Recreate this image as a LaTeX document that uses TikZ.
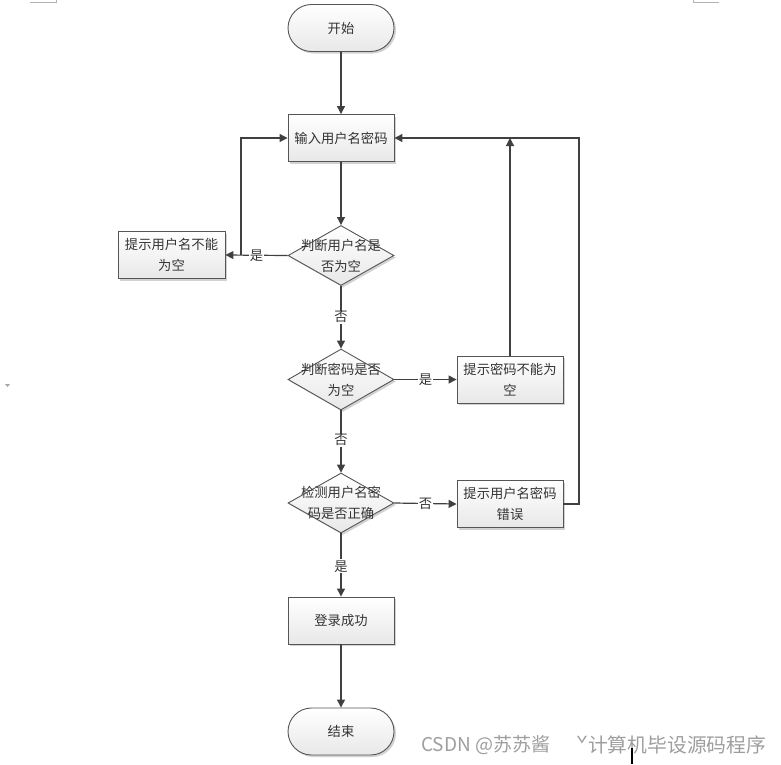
\documentclass[tikz,border=0pt]{standalone}
\usepackage{fontspec}
\setmainfont{Noto Sans CJK SC}
\usetikzlibrary{arrows.meta,shadows,shapes.geometric}
\definecolor{ink}{HTML}{333333}
\definecolor{edge}{HTML}{404040}
\definecolor{frame}{HTML}{555555}
\tikzset{
  cn/.style={font=\fontsize{13.3}{21}\selectfont, text=ink, align=center},
  shade box/.style={draw=frame, line width=0.9pt, top color=white, bottom color=black!9,
    drop shadow={shadow xshift=2pt, shadow yshift=-2pt, fill=black!35, opacity=0.5}},
  term/.style={shade box, cn, rectangle, rounded corners=23.5pt, minimum width=106pt, minimum height=47pt, inner sep=0pt},
  procbox/.style={shade box, cn, rectangle, minimum width=106pt, minimum height=47pt, inner sep=0pt},
  decbox/.style={shade box, diamond, minimum width=106pt, minimum height=60pt, inner sep=0pt},
  flow/.style={draw=edge, line width=1.2pt, -{Triangle[length=8pt,width=8pt]}},
  lbl/.style={cn, fill=white, inner sep=1pt},
  cornermark/.style={draw=black!30, line width=0.8pt},
  wmark/.style={anchor=west, text=black!38, inner sep=0pt}
}
\begin{document}
\begin{tikzpicture}[x=1pt,y=-1pt]
\useasboundingbox (0,0) rectangle (781,764);

% nodes
\node[term] (start) at (341,28) {开始};
\node[procbox] (inp) at (341,138) {输入用户名密码};
\node[decbox] (d1) at (341,255.5) {};
\node[cn] (d1t) at (d1) {判断用户名是\\否为空};
\node[procbox, minimum width=107pt] (lb) at (171.5,255) {提示用户名不能\\为空};
\node[decbox, minimum height=61pt] (d2) at (341,379.5) {};
\node[cn] (d2t) at (d2) {判断密码是否\\为空};
\node[procbox] (pb) at (510,379.5) {提示密码不能为\\空};
\node[decbox] (d3) at (341,503) {};
\node[cn] (d3t) at (d3) {检测用户名密\\码是否正确};
\node[procbox] (eb) at (510,504) {提示用户名密码\\错误};
\node[procbox] (ok) at (341,620.5) {登录成功};
\node[term] (stop) at (341,731.5) {结束};

% joints of the return lines
\coordinate (j1) at (241,255);
\coordinate (r1) at (510,138);
\coordinate (cr) at (579,138);

% connectors
\draw[flow] (start) -- (inp);
\draw[flow] (inp) -- (d1);
\draw[flow] (d1.west) -- node[lbl, pos=0.5] {是} (lb.east);
\draw[flow] (j1) |- (inp.west);
\draw[flow] (d1.south) -- node[lbl, pos=0.5] {否} (d2.north);
\draw[flow] (d2.east) -- node[lbl, pos=0.5] {是} (pb.west);
\draw[flow] (pb.north) -- (r1);
\draw[flow] (d2.south) -- node[lbl, pos=0.48] {否} (d3.north);
\draw[flow] (d3.east) -- node[lbl, pos=0.5] {否} (eb.west);
\draw[flow] (eb.east) -| (cr) -- (inp.east);
\draw[flow] (d3.south) -- node[lbl, pos=0.52] {是} (ok.north);
\draw[flow] (ok) -- (stop);

% page corner marks and margin marker
\draw[cornermark] (30,2.7) -- (56,2.7) -- (56,0);
\draw[cornermark] (693,0) -- (693,2.7) -- (719,2.7);
\fill[black!35] (5,384) -- (10,384) -- (7.5,387) -- cycle;

% watermark
\node[wmark, font=\fontsize{19}{22}\selectfont] (wm1) at (421,745) {CSDN @苏苏酱};
\node[wmark, font=\fontsize{19.8}{22}\selectfont] (wm2) at (576,745) {ˇ计算机毕设源码程序};
\draw[black, line width=1.5pt] (632,748) -- (632,764);
\end{tikzpicture}
\end{document}
